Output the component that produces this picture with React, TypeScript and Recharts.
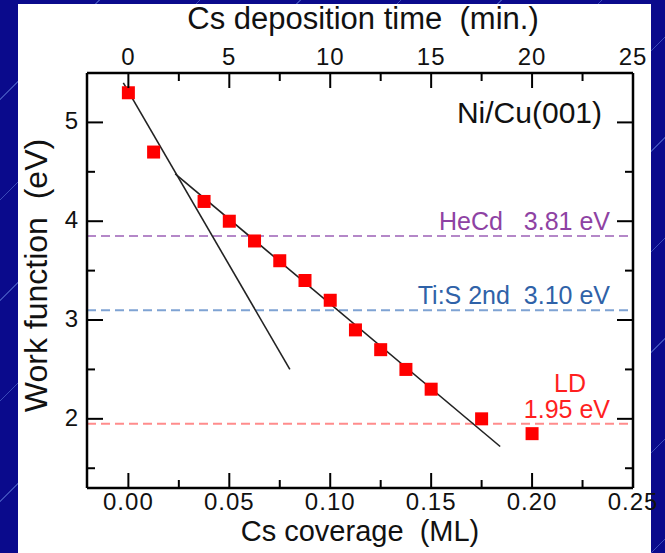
import React from "react";
import { ComposedChart, Scatter, XAxis, YAxis, ReferenceLine } from "recharts";

// measured work function vs Cs coverage (ML)
const coverage = [0, 0.0125, 0.0375, 0.05, 0.0625, 0.075, 0.0875, 0.1, 0.1125, 0.125, 0.1375, 0.15, 0.175, 0.2];
const workFunction = [5.3, 4.7, 4.2, 4.0, 3.8, 3.6, 3.4, 3.2, 2.9, 2.7, 2.5, 2.3, 2.0, 1.85];

// straight-line fits (end points)
const steepFitX = [-0.0025, 0.08];
const steepFitY = [5.4, 2.5];
const shallowFitX = [0.0232, 0.1842];
const shallowFitY = [4.48, 1.72];

// laser photon energies
const laserEnergy = [3.85, 3.1, 1.95];
const laserLabel = ["HeCd   3.81 eV", "Ti:S 2nd  3.10 eV", "1.95 eV"];
const laserColor = ["#b487c8", "#7fa3d3", "#ff8c8c"];
const laserText = ["#8e42a3", "#2f62a8", "#ff1f1f"];

// bottom axis in ML, top axis shares the scale (0.01 ML per min)
const coverageTicks = [0, 0.025, 0.05, 0.075, 0.1, 0.125, 0.15, 0.175, 0.2, 0.225, 0.25];
const coverageLabels = ["0.00", "", "0.05", "", "0.10", "", "0.15", "", "0.20", "", "0.25"];
const timeLabels = ["0", "", "5", "", "10", "", "15", "", "20", "", "25"];
const wfTicks = [1.5, 2, 2.5, 3, 3.5, 4, 4.5, 5, 5.5];
const wfLabels = ["", "2", "", "3", "", "4", "", "5", ""];

const W = 665;
const H = 553;
const LEFT = 87;
const RIGHT = 633;
const TOP = 73;
const BOTTOM = 488;
const font = "'Liberation Sans', Arial, Helvetica, sans-serif";

const points = coverage.map((x, i) => ({ x, y: workFunction[i] }));
const steepFit = steepFitX.map((x, i) => ({ x, y: steepFitY[i] }));
const shallowFit = shallowFitX.map((x, i) => ({ x, y: shallowFitY[i] }));

const tickIndex = (ticks: number[], v: number) => ticks.findIndex((t) => Math.abs(t - v) < 1e-9);

function BottomTick({ x, y, payload }: any) {
  const label = coverageLabels[tickIndex(coverageTicks, payload.value)];
  return (
    <g>
      <line x1={x} y1={y} x2={x} y2={y - (label ? 15 : 8)} stroke="#000" strokeWidth={2} />
      {label && (
        <text x={x} y={y + 22} textAnchor="middle" fontSize={24} fontFamily={font} fill="#111" letterSpacing={1}>
          {label}
        </text>
      )}
    </g>
  );
}

function TopTick({ x, y, payload }: any) {
  const label = timeLabels[tickIndex(coverageTicks, payload.value)];
  return (
    <g>
      <line x1={x} y1={y} x2={x} y2={y + (label ? 15 : 8)} stroke="#000" strokeWidth={2} />
      {label && (
        <text x={x} y={y - 8} textAnchor="middle" fontSize={24} fontFamily={font} fill="#111" letterSpacing={1}>
          {label}
        </text>
      )}
    </g>
  );
}

function LeftTick({ x, y, payload }: any) {
  const label = wfLabels[tickIndex(wfTicks, payload.value)];
  return (
    <g>
      <line x1={x} y1={y} x2={x + (label ? 16 : 8)} y2={y} stroke="#000" strokeWidth={2} />
      {label && (
        <text x={x - 9} y={y + 7} textAnchor="end" fontSize={24} fontFamily={font} fill="#111">
          {label}
        </text>
      )}
    </g>
  );
}

function RightTick({ x, y, payload }: any) {
  const label = wfLabels[tickIndex(wfTicks, payload.value)];
  return <line x1={x} y1={y} x2={x - (label ? 16 : 8)} y2={y} stroke="#000" strokeWidth={2} />;
}

const square = (p: any) => <rect x={p.cx - 6.5} y={p.cy - 6.5} width={13} height={13} fill="#ff0000" />;
const noDot = () => <g />;

function laserLabelContent(i: number) {
  return (p: any) => {
    const vb = p.viewBox || {};
    const y = vb.y ?? 0;
    const right = (vb.x ?? LEFT) + (vb.width ?? RIGHT - LEFT) - 23;
    return (
      <g>
        {i === 2 && (
          <text x={right - 40} y={y - 32} textAnchor="middle" fontSize={25} fontFamily={font} fill={laserText[i]}>
            LD
          </text>
        )}
        <text x={right} y={y - 6} textAnchor="end" fontSize={25} fontFamily={font} fill={laserText[i]} style={{ whiteSpace: "pre" }}>
          {laserLabel[i]}
        </text>
      </g>
    );
  };
}

const axisLine = { stroke: "#000", strokeWidth: 2.5 };

export default function App() {
  const mid = (LEFT + RIGHT) / 2;
  const yMid = (TOP + BOTTOM) / 2 - 5;
  return (
    <div
      style={{
        position: "absolute",
        left: 0,
        top: 0,
        width: W,
        height: H,
        background:
          "repeating-linear-gradient(135deg, #0a0a8c 0px, #0a0a8c 70px, #3a4ab8 70px, #3a4ab8 71px)",
      }}
    >
      <div style={{ position: "absolute", left: 18, top: 4, width: 633, height: H - 4, background: "#fff" }} />
      <div style={{ position: "absolute", left: 0, top: 0 }}>
        <ComposedChart width={W} height={H} margin={{ top: 0, right: 0, bottom: 0, left: 0 }}>
          <XAxis
            xAxisId="bottom"
            dataKey="x"
            type="number"
            domain={[-0.0205, 0.25]}
            allowDataOverflow
            ticks={coverageTicks}
            interval={0}
            height={H - BOTTOM}
            tickSize={0}
            tickMargin={0}
            tickLine={false}
            axisLine={axisLine}
            tick={<BottomTick />}
            label={() => (
              <text x={mid} y={541} textAnchor="middle" fontSize={29} fontFamily={font} fill="#111" style={{ whiteSpace: "pre" }}>
                Cs coverage  (ML)
              </text>
            )}
          />
          <XAxis
            xAxisId="top"
            orientation="top"
            dataKey="x"
            type="number"
            domain={[-0.0205, 0.25]}
            allowDataOverflow
            ticks={coverageTicks}
            interval={0}
            height={TOP}
            tickSize={0}
            tickMargin={0}
            tickLine={false}
            axisLine={axisLine}
            tick={<TopTick />}
            label={() => (
              <text x={mid + 3} y={29} textAnchor="middle" fontSize={31} fontFamily={font} fill="#111" style={{ whiteSpace: "pre" }}>
                Cs deposition time  (min.)
              </text>
            )}
          />
          <YAxis
            yAxisId="left"
            dataKey="y"
            type="number"
            domain={[1.3, 5.5]}
            allowDataOverflow
            ticks={wfTicks}
            interval={0}
            width={LEFT}
            tickSize={0}
            tickMargin={0}
            tickLine={false}
            axisLine={axisLine}
            tick={<LeftTick />}
            label={() => (
              <text
                x={47}
                y={yMid}
                transform={`rotate(-90 47 ${yMid})`}
                textAnchor="middle"
                fontSize={32}
                fontFamily={font}
                fill="#111"
                style={{ whiteSpace: "pre" }}
              >
                Work function  (eV)
              </text>
            )}
          />
          <YAxis
            yAxisId="right"
            orientation="right"
            dataKey="y"
            type="number"
            domain={[1.3, 5.5]}
            allowDataOverflow
            ticks={wfTicks}
            interval={0}
            width={W - RIGHT}
            tickSize={0}
            tickMargin={0}
            tickLine={false}
            axisLine={axisLine}
            tick={<RightTick />}
            label={() => (
              <text x={602} y={123} textAnchor="end" fontSize={30} fontFamily={font} fill="#111">
                Ni/Cu(001)
              </text>
            )}
          />
          {laserEnergy.map((e, i) => (
            <ReferenceLine
              key={i}
              xAxisId="bottom"
              yAxisId="left"
              y={e}
              stroke={laserColor[i]}
              strokeWidth={2}
              strokeDasharray="9 5"
              label={laserLabelContent(i)}
            />
          ))}
          <Scatter
            xAxisId="top"
            yAxisId="right"
            data={steepFit}
            line={{ stroke: "#222", strokeWidth: 1.6 }}
            shape={noDot}
            isAnimationActive={false}
          />
          <Scatter
            xAxisId="bottom"
            yAxisId="left"
            data={shallowFit}
            line={{ stroke: "#222", strokeWidth: 1.6 }}
            shape={noDot}
            isAnimationActive={false}
          />
          <Scatter xAxisId="bottom" yAxisId="left" data={points} shape={square} isAnimationActive={false} />
        </ComposedChart>
      </div>
    </div>
  );
}
